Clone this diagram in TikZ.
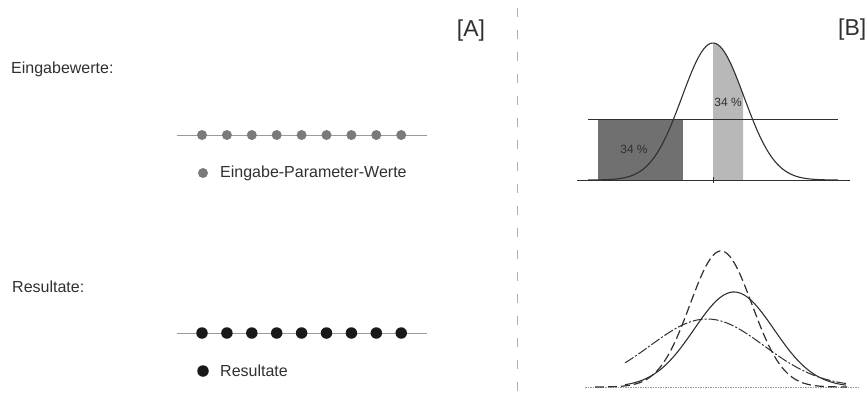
\documentclass[tikz,border=0pt]{standalone}
\usepackage{fontspec}
\setmainfont{Liberation Sans}
\definecolor{ink}{HTML}{303030}
\definecolor{dotgray}{HTML}{7A7A7A}
\definecolor{darkfill}{HTML}{707070}
\definecolor{lightfill}{HTML}{B8B8B8}
\definecolor{rulegray}{HTML}{9A9A9A}
\tikzset{
  lbl/.style={inner sep=0pt, anchor=west, font=\fontsize{16}{19}\selectfont, text=ink},
  tag/.style={inner sep=0pt, font=\fontsize{23}{27}\selectfont, text=ink},
  pct/.style={inner sep=0pt, font=\fontsize{12}{14}\selectfont, text=ink},
  gdot/.style={circle, fill=dotgray, inner sep=0pt, minimum size=10pt},
  bdot/.style={circle, fill=black!90, inner sep=0pt, minimum size=11.5pt},
  thinline/.style={draw=rulegray, line width=0.8pt},
  curveline/.style={draw=ink, line width=1.1pt},
}
\begin{document}
\begin{tikzpicture}[x=1pt,y=-1pt]
\useasboundingbox (0,0) rectangle (865,392);
% divider
\coordinate (dtop) at (517,8);
\coordinate (dbot) at (517,392);
\draw[rulegray!80, line width=0.7pt, dash pattern=on 9pt off 13pt] (dtop) -- (dbot);
% panel A
\node[tag] (tA) at (471,31) {[A]};
\node[lbl] (ein) at (11,69) {Eingabewerte:};
\node[lbl] (res) at (12,287) {Resultate:};
\coordinate (l1a) at (177,135);
\coordinate (l1b) at (427,135);
\draw[thinline] (l1a) -- (l1b);
\foreach \i in {0,...,8} {
  \node[gdot] (g\i) at ({202+24.9*\i},135) {};
}
\node[gdot] (lg1) at (203,173) {};
\node[lbl] (lt1) at (220,173) {Eingabe-Parameter-Werte};
\coordinate (l2a) at (177,333);
\coordinate (l2b) at (427,333);
\draw[thinline] (l2a) -- (l2b);
\foreach \i in {0,...,8} {
  \node[bdot] (b\i) at ({202+24.9*\i},333) {};
}
\node[bdot] (lg2) at (203,371) {};
\node[lbl] (lt2) at (220,371) {Resultate};
% panel B top
\node[tag, anchor=west] (tB) at (838,30) {[B]};
\fill[darkfill] (598,119) rectangle (683,180);
\fill[lightfill] (713,180) -- plot[domain=713:743, samples=30] (\x, {180-137*exp(-0.5*((\x-713)/31)^2)}) -- (743,180) -- cycle;
\coordinate (t1a) at (577,180);
\coordinate (t1b) at (850,180);
\coordinate (t2a) at (588,119);
\coordinate (t2b) at (838,119);
\draw[ink, line width=0.8pt] (t1a) -- (t1b);
\draw[ink, line width=0.8pt] (t2a) -- (t2b);
\draw[curveline] plot[domain=588:838, samples=120, smooth] (\x, {180-137*exp(-0.5*((\x-713)/31)^2)});
\coordinate (tk1) at (713,177);
\coordinate (tk2) at (713,183);
\draw[ink, line width=1pt] (tk1) -- (tk2);
\node[pct] (p1) at (634,149) {34 \%};
\node[pct] (p2) at (728,102) {34 \%};
% panel B bottom
\coordinate (bb1) at (585,387);
\coordinate (bb2) at (858,387);
\draw[rulegray, line width=0.8pt, dash pattern=on 1.5pt off 1pt] (bb1) -- (bb2);
\draw[ink, line width=1.2pt, dash pattern=on 9pt off 4pt] plot[domain=595:847, samples=120, smooth] (\x, {387-136*exp(-0.5*((\x-721)/31)^2)});
\draw[curveline] plot[domain=625:846, samples=120, smooth] (\x, {387-95*exp(-0.5*((\x-734)/40)^2)});
\draw[ink, line width=1pt, dash pattern=on 10pt off 2pt on 2pt off 2pt] plot[domain=625:846, samples=120, smooth] (\x, {387-68*exp(-0.5*((\x-707)/57)^2)});
\end{tikzpicture}
\end{document}
